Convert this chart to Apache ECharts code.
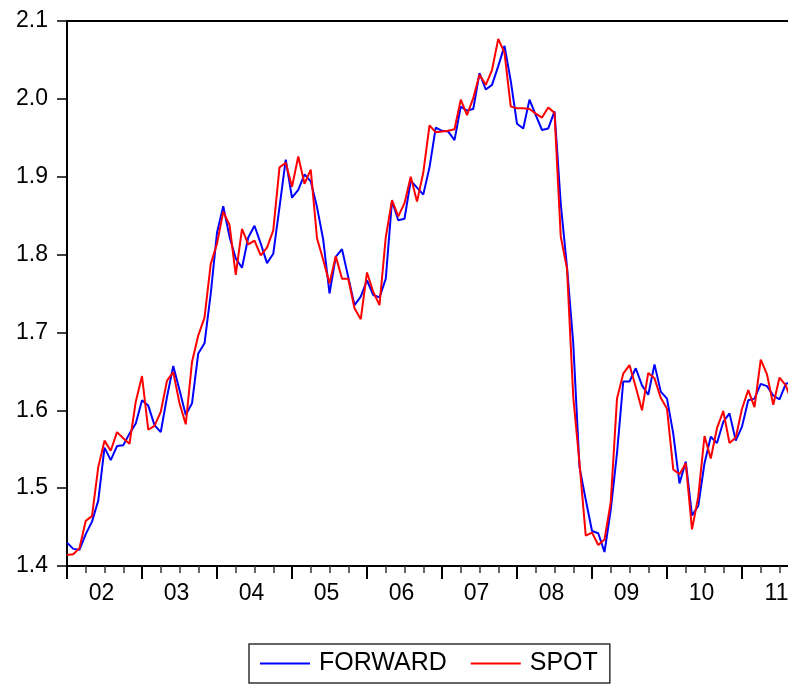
<!DOCTYPE html>
<html>
<head>
<meta charset="utf-8">
<script src="https://cdn.jsdelivr.net/npm/echarts@6/dist/echarts.min.js"></script>
<style>
  html, body { margin: 0; padding: 0; overflow: hidden; background: #fff; }
  #chart { width: 800px; height: 686px; }
</style>
</head>
<body>
<div id="chart"></div>
<script>
// Monthly observations, January 2002 onwards
const startYear = 2002;
const monthCount = 117;
const months = [];
for (let i = 0; i < monthCount; i++) {
  const y = startYear + Math.floor(i / 12);
  const m = (i % 12) + 1;
  months.push(y + '-' + String(m).padStart(2, '0'));
}

// Forward rate
const forward = [
  1.430, 1.422, 1.421, 1.441, 1.457, 1.484, 1.552, 1.536, 1.554, 1.555, 1.570, 1.583,
  1.613, 1.606, 1.581, 1.572, 1.617, 1.657, 1.626, 1.594, 1.609, 1.673, 1.686, 1.750,
  1.828, 1.862, 1.823, 1.795, 1.783, 1.822, 1.837, 1.814, 1.789, 1.801, 1.861, 1.922,
  1.873, 1.883, 1.903, 1.894, 1.861, 1.819, 1.750, 1.797, 1.807, 1.771, 1.735, 1.746,
  1.767, 1.748, 1.745, 1.769, 1.869, 1.844, 1.846, 1.895, 1.886, 1.877, 1.912, 1.963,
  1.959, 1.958, 1.947, 1.990, 1.985, 1.987, 2.033, 2.012, 2.018, 2.042, 2.068, 2.023,
  1.968, 1.962, 1.999, 1.979, 1.960, 1.962, 1.984, 1.865, 1.784, 1.686, 1.527, 1.485,
  1.445, 1.442, 1.418, 1.472, 1.545, 1.637, 1.637, 1.654, 1.632, 1.620, 1.659, 1.624,
  1.615, 1.570, 1.506, 1.534, 1.465, 1.477, 1.532, 1.566, 1.558, 1.585, 1.596, 1.561,
  1.579, 1.613, 1.615, 1.634, 1.631, 1.619, 1.614, 1.634, 1.636
];

// Spot rate
const spot = [
  1.414, 1.415, 1.423, 1.458, 1.464, 1.527, 1.561, 1.548, 1.572, 1.564, 1.557, 1.611,
  1.644, 1.575, 1.580, 1.598, 1.638, 1.649, 1.609, 1.582, 1.662, 1.696, 1.719, 1.788,
  1.814, 1.855, 1.838, 1.774, 1.833, 1.813, 1.818, 1.799, 1.809, 1.831, 1.912, 1.918,
  1.887, 1.926, 1.891, 1.909, 1.821, 1.793, 1.763, 1.798, 1.769, 1.769, 1.731, 1.717,
  1.777, 1.752, 1.735, 1.822, 1.870, 1.849, 1.866, 1.900, 1.868, 1.905, 1.966, 1.957,
  1.958, 1.959, 1.961, 1.999, 1.979, 2.001, 2.031, 2.018, 2.037, 2.077, 2.059, 1.990,
  1.988, 1.988, 1.987, 1.981, 1.976, 1.989, 1.982, 1.823, 1.782, 1.617, 1.532, 1.439,
  1.443, 1.427, 1.434, 1.482, 1.615, 1.647, 1.658, 1.630, 1.600, 1.648, 1.641, 1.616,
  1.602, 1.524, 1.518, 1.532, 1.447, 1.489, 1.567, 1.538, 1.577, 1.599, 1.558, 1.565,
  1.602, 1.626, 1.604, 1.665, 1.646, 1.607, 1.642, 1.632, 1.610
];

const yMin = 1.4;
const yMax = 2.1;
const yStep = 0.1;

const FONT = "'Liberation Sans', Arial, Helvetica, sans-serif";

const chart = echarts.init(document.getElementById('chart'), null, { renderer: 'canvas' });

chart.setOption({
  animation: false,
  backgroundColor: '#ffffff',
  textStyle: { fontFamily: FONT },
  grid: {
    left: 67, top: 21, width: 725, height: 545,
    show: true, borderColor: '#000', borderWidth: 2, backgroundColor: 'transparent'
  },
  xAxis: [
    {
      type: 'category',
      data: months,
      boundaryGap: false,
      position: 'bottom',
      axisLine: { onZero: false, lineStyle: { color: '#000', width: 2 } },
      axisTick: {
        interval: function (i) { return i % 12 === 0; },
        length: 13,
        lineStyle: { color: '#000', width: 2 }
      },
      axisLabel: {
        interval: function (i) { return i % 12 === 6; },
        formatter: function (v) { return v.slice(2, 4); },
        fontSize: 23, color: '#000', margin: 16, fontFamily: FONT,
        padding: [0, 6, 0, 0]
      },
      splitLine: { show: false }
    },
    {
      // quarterly minor ticks
      type: 'category',
      data: months,
      boundaryGap: false,
      position: 'bottom',
      axisLine: { show: false, onZero: false },
      axisTick: {
        interval: function (i) { return i % 3 === 0 && i % 12 !== 0; },
        length: 7,
        lineStyle: { color: '#333', width: 1.5 }
      },
      axisLabel: { show: false },
      splitLine: { show: false }
    }
  ],
  yAxis: {
    type: 'value',
    min: yMin, max: yMax, interval: yStep,
    axisLine: { show: true, lineStyle: { color: '#000', width: 2 } },
    axisTick: { show: true, length: 10, lineStyle: { color: '#000', width: 1.5 } },
    axisLabel: {
      formatter: function (v) { return v.toFixed(1); },
      fontSize: 23, color: '#000', margin: 19, fontFamily: FONT
    },
    splitLine: { show: false }
  },
  legend: {
    left: 249, top: 644,
    orient: 'horizontal',
    selectedMode: false,
    icon: 'rect',
    itemWidth: 50, itemHeight: 2,
    itemGap: 24,
    padding: [7, 12, 7, 11],
    borderColor: '#333', borderWidth: 1.5,
    textStyle: { fontSize: 25, color: '#000', fontFamily: FONT, padding: [0, 0, 0, 4] },
    data: ['FORWARD', 'SPOT']
  },
  series: [
    {
      name: 'FORWARD', type: 'line', data: forward, xAxisIndex: 0,
      symbol: 'none', lineStyle: { color: '#0000ff', width: 2 },
      itemStyle: { color: '#0000ff' }
    },
    {
      name: 'SPOT', type: 'line', data: spot, xAxisIndex: 0,
      symbol: 'none', lineStyle: { color: '#ff0000', width: 2 },
      itemStyle: { color: '#ff0000' }
    }
  ]
});
</script>
</body>
</html>
